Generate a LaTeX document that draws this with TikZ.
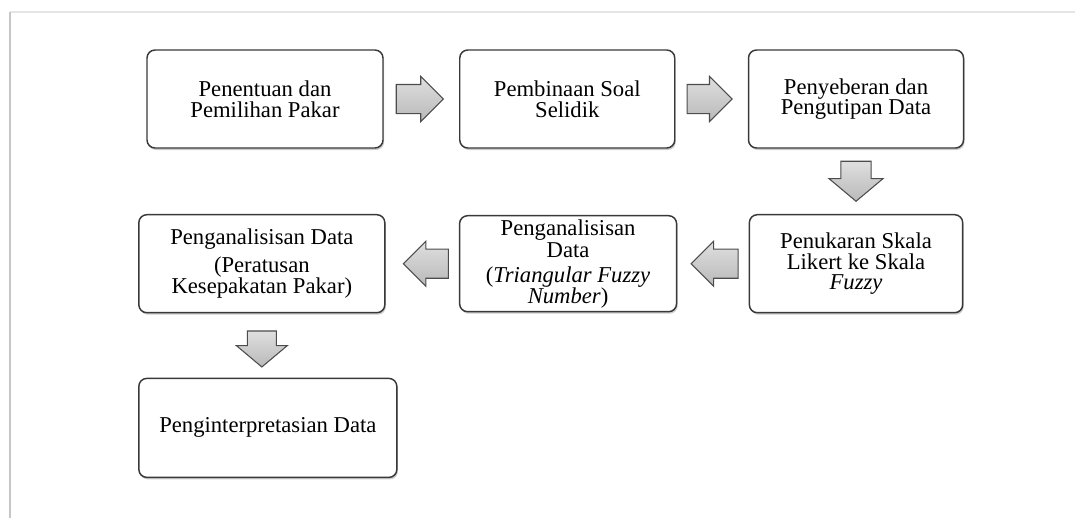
\documentclass[tikz,border=0pt]{standalone}
\usepackage{fontspec}
\setmainfont{Liberation Serif}
\usetikzlibrary{positioning}
\usetikzlibrary{shapes.arrows}
\usetikzlibrary{shadows}

\begin{document}
\begin{tikzpicture}[
                boxnode/.style={rectangle, rounded corners=6pt, draw=gray!45!black, line width=1.1pt, fill=white, drop shadow={shadow xshift=0.8pt, shadow yshift=-1.5pt, opacity=0.4}, minimum height=73.5pt, align=center, inner sep=2pt, font=\fontsize{17}{15.5}\selectfont},
                blockarrow/.style={single arrow, draw=gray!60!black, line width=0.8pt, top color=gray!25, bottom color=gray!55, inner xsep=0pt, inner ysep=10.5pt, single arrow head extend=6pt},
                rightarrow/.style={blockarrow, minimum height=35.25pt},
                leftarrow/.style={blockarrow, shape border rotate=180, minimum height=35.25pt},
                downarrow/.style={blockarrow, shape border rotate=270, single arrow tip angle=100, inner xsep=10.9pt, inner ysep=0pt, single arrow head extend=9pt, minimum height=30pt},
            ]
            \useasboundingbox (0pt,0pt) rectangle (806.25pt,-388.5pt);
            % Page frame
            \draw[gray!20, line width=0.8pt] (7.5pt,-9pt) -- (806.25pt,-9pt);
            \draw[gray!45, line width=1.4pt] (7.5pt,-388.5pt) -- (7.5pt,-9pt);

            % Nodes
            \node[boxnode, minimum width=177pt]     (box_pakar)     at (198.75pt,-74.25pt)      {Penentuan dan\\Pemilihan Pakar};
            \node[rightarrow]                       (arrow_1)       [right=9pt of box_pakar]    {};
            \node[boxnode, minimum width=161.25pt]  (box_soal)      [right=11.25pt of arrow_1]  {Pembinaan Soal\\Selidik};
            \node[rightarrow, minimum height=33.75pt] (arrow_2)     [right=8.25pt of box_soal]  {};
            \node[boxnode, minimum width=161.25pt]  (box_data)      [right=11.25pt of arrow_2]  {Penyeberan dan\\Pengutipan Data};

            \node[downarrow]                        (arrow_3)       [below=9pt of box_data]     {};
            \node[boxnode, minimum width=160pt]     (box_likert)    [below=9pt of arrow_3]      {Penukaran Skala\\Likert ke Skala\\\textit{Fuzzy}};

            \node[leftarrow]                        (arrow_4)       [left=7.5pt of box_likert]  {};
            \node[boxnode, minimum width=162.75pt, minimum height=72pt] (box_tfn) [left=9.75pt of arrow_4]
                {Penganalisisan\\[1.5pt]Data\\[3pt](\textit{Triangular Fuzzy}\\\textit{Number})};
            \node[leftarrow, minimum height=33.75pt] (arrow_5)      [left=7.5pt of box_tfn]     {};
            \node[boxnode, minimum width=184.5pt]   (box_peratusan) [left=12.75pt of arrow_5]
                {Penganalisisan Data\\[5.5pt](Peratusan\\Kesepakatan Pakar)};

            \node[downarrow, inner xsep=10.5pt, single arrow head extend=8.25pt, minimum height=27pt] (arrow_6) [below=12.75pt of box_peratusan] {};
            \node[boxnode, minimum width=193.5pt, minimum height=74.25pt] (box_interpretasi) [below=7.5pt of arrow_6, xshift=4.5pt] {Penginterpretasian Data};
        \end{tikzpicture}
\end{document}
